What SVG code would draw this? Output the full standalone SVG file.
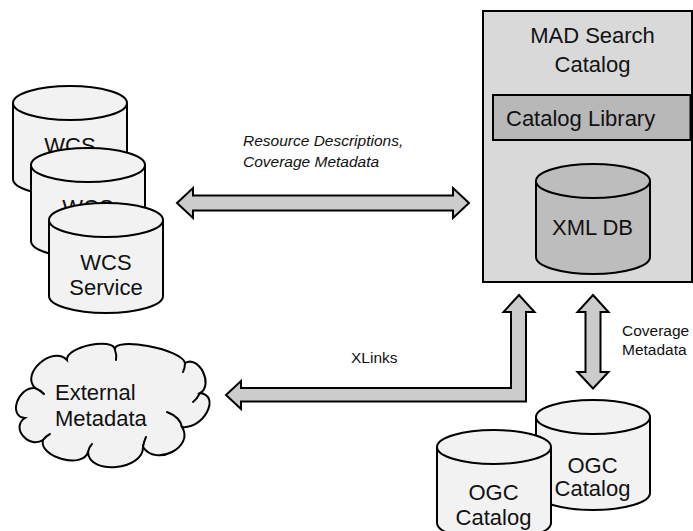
<svg xmlns="http://www.w3.org/2000/svg" width="693" height="531" viewBox="0 0 693 531">
<style>
text{font-family:"Liberation Sans",Arial,Helvetica,sans-serif;fill:#111}
.big{font-size:22px}
.lbl{font-size:15.5px}
.it{font-style:italic}
.mid{text-anchor:middle}
.ln{stroke:#000;stroke-width:2;stroke-linejoin:miter}
.light{fill:#f2f2f2}
.curl{fill:none;stroke:#000;stroke-width:2;stroke-linecap:round}
.arrow{fill:#cccccc;stroke:#000;stroke-width:2;stroke-linejoin:miter}
</style>
<defs>
<g id="cyl110">
<path d="M0,17 L0,93 A57,17 0 0 0 114,93 L114,17 A57,17 0 0 0 0,17 Z"/>
<path d="M0,17 A57,17 0 0 0 114,17" fill="none"/>
</g>
</defs>

<g id="connectors">
<polygon class="arrow" points="177,203 193,188 193,195.5 453,195.5 453,188 469,203 453,218 453,210.5 193,210.5 193,218"/>
<polygon class="arrow" points="226,395 241,381 241,388 511,388 511,312 503.5,312 519,295 534.5,312 526,312 526,401.5 241,401.5 241,409"/>
<polygon class="arrow" points="593,295 608.5,312 600.5,312 600.5,372 608.5,372 593,388.5 577.5,372 585.5,372 585.5,312 577.5,312"/>
<text class="lbl it" x="243" y="146">Resource Descriptions,</text>
<text class="lbl it" x="243" y="167">Coverage Metadata</text>
<text class="lbl" x="351" y="363">XLinks</text>
<text class="lbl" x="622" y="336">Coverage</text>
<text class="lbl" x="622" y="355">Metadata</text>
</g>

<g id="wcs1">
<use href="#cyl110" x="13" y="86" class="ln light"/>
<text class="big mid" x="70" y="153">WCS</text>
</g>
<g id="wcs2">
<use href="#cyl110" x="31" y="148" class="ln light"/>
<text class="big mid" x="88" y="215">WCS</text>
</g>
<g id="wcs3">
<use href="#cyl110" x="49" y="203" class="ln light"/>
<text class="big mid" x="106" y="270">WCS</text>
<text class="big mid" x="106" y="295">Service</text>
</g>

<g id="mad-search-catalog">
<rect x="483" y="11" width="209" height="271" fill="#d9d9d9" class="ln"/>
<text class="big mid" x="592.5" y="43">MAD Search</text>
<text class="big mid" x="592.5" y="72">Catalog</text>
</g>
<g id="catalog-library">
<rect x="493" y="95" width="197.5" height="45" fill="#b8b8b8" class="ln"/>
<text class="big" x="506" y="126">Catalog Library</text>
</g>
<g id="xml-db">
<use href="#cyl110" x="536" y="164" class="ln" fill="#bdbdbd"/>
<text class="big mid" x="592.5" y="235">XML DB</text>
</g>

<g id="external-metadata">
<path class="ln light" d="M35,388 C20.3,373.3 52.3,345.3 67,360 C65.7,346.7 113.7,336.7 115,350 C112.3,336 182.3,349 185,363 C199,355 214,385 200,393 C221.3,395.7 203.3,429.7 182,427 C194.7,447 155.7,467 143,447 C143.7,470.3 88.7,475.3 88,452 C83.3,469.3 38.3,457.3 43,440 C28.3,449.3 10.3,427.3 25,418 C7.7,416.7 17.7,386.7 35,388 Z"/>
<path class="curl" d="M35,388 Q40,390 44,394 M115,350 Q117,355 116,360 M185,363 Q185,368 183,372 M200,393 Q197,399 193,402 M182,427 Q180,417 167,412 M143,447 Q144,441 146,437 M88,452 Q89,447 92,444 M43,440 Q46,436 50,434"/>
<text class="big" x="55" y="400">External</text>
<text class="big" x="55" y="426">Metadata</text>
</g>

<g id="ogc-catalog-back">
<use href="#cyl110" x="536" y="400" class="ln light"/>
<text class="big mid" x="592.5" y="473">OGC</text>
<text class="big mid" x="592.5" y="496">Catalog</text>
</g>
<g id="ogc-catalog-front">
<use href="#cyl110" x="437" y="430" class="ln light"/>
<text class="big mid" x="493.5" y="500">OGC</text>
<text class="big mid" x="493.5" y="525">Catalog</text>
</g>
</svg>
